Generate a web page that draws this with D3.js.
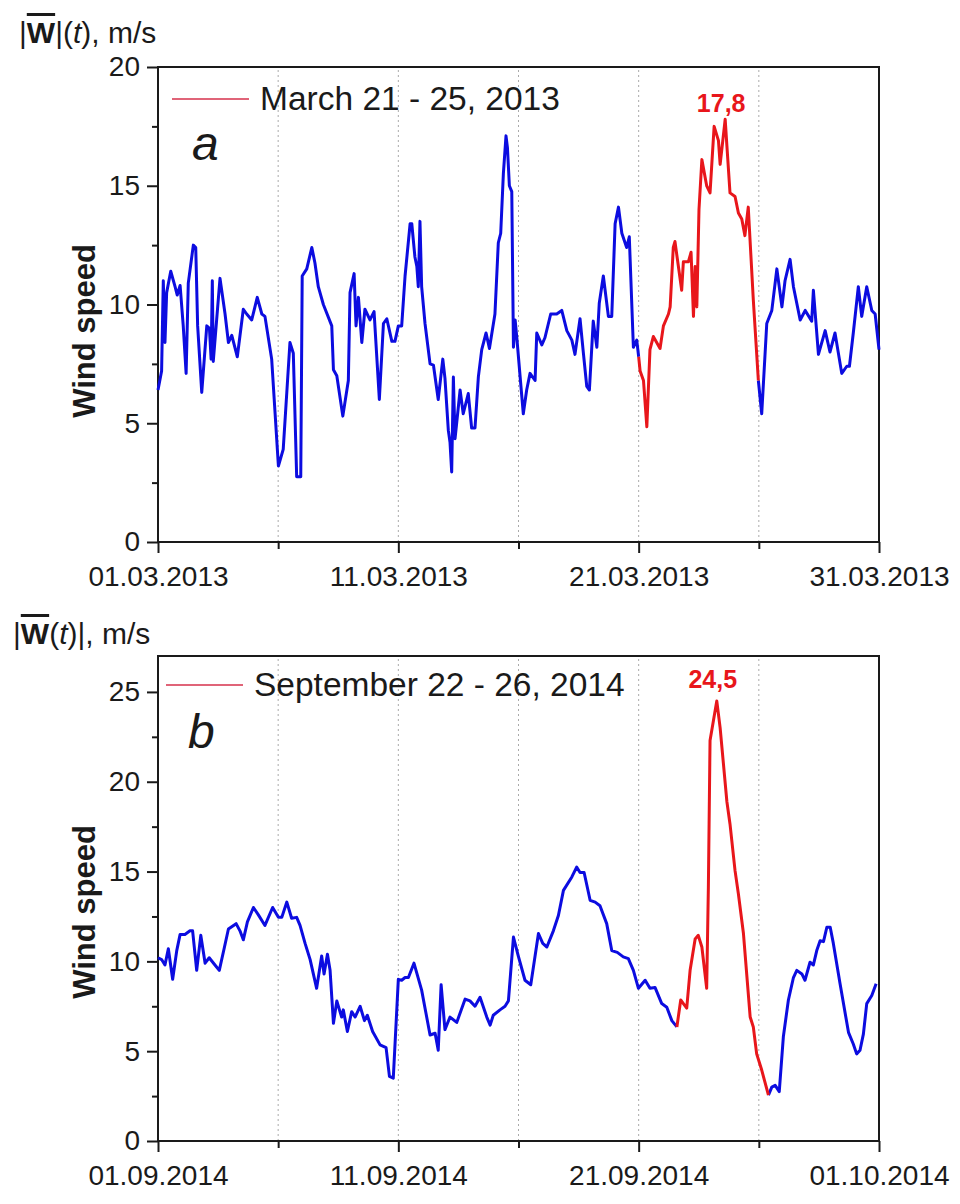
<!DOCTYPE html>
<html>
<head>
<meta charset="utf-8">
<script src="https://cdn.jsdelivr.net/npm/d3@7"></script>
<style>
body { margin: 0; background: #fff; }
text { font-family: "Liberation Sans", Arial, sans-serif; fill: #1a1a1a; }
</style>
</head>
<body>
<div id="chart"></div>
<script>
// panel a: March 2013, time in days from 01.03.2013 00:00
var marchDays = [0,0.15,0.22,0.29,0.36,0.53,0.71,0.80,0.92,1.05,
  1.17,1.26,1.47,1.57,1.65,1.82,2.03,2.14,2.21,2.26,
  2.30,2.44,2.58,2.79,2.93,3.07,3.30,3.55,3.69,3.90,
  4.13,4.32,4.45,4.73,5.01,5.21,5.49,5.63,5.77,5.94,
  6.00,6.19,6.40,6.53,6.67,6.88,7.23,7.30,7.44,7.69,
  7.92,7.99,8.16,8.24,8.34,8.48,8.61,8.82,8.99,9.21,
  9.38,9.52,9.73,9.86,10.00,10.14,10.28,10.49,10.56,10.69,
  10.77,10.83,10.90,10.97,11.11,11.32,11.46,11.66,11.85,11.94,
  12.08,12.15,12.22,12.29,12.36,12.57,12.70,12.91,13.05,13.19,
  13.33,13.47,13.65,13.79,14.02,14.16,14.26,14.37,14.48,14.54,
  14.62,14.72,14.79,14.86,14.93,15.14,15.20,15.34,15.48,15.69,
  15.76,15.97,16.10,16.34,16.59,16.80,17.01,17.22,17.35,17.56,
  17.70,17.84,17.95,18.11,18.26,18.36,18.53,18.74,18.88,19.02,
  19.16,19.30,19.50,19.61,19.78,19.92,20.00,20.06,20.20,20.34,
  20.47,20.61,20.89,21.03,21.24,21.31,21.44,21.51,21.79,21.86,
  22.07,22.18,22.28,22.35,22.42,22.51,22.63,22.83,22.97,23.14,
  23.32,23.39,23.60,23.67,23.80,24.01,24.15,24.29,24.42,24.56,
  24.77,24.98,25.12,25.33,25.54,25.75,25.96,26.09,26.30,26.44,
  26.72,26.93,27.20,27.27,27.48,27.76,27.96,28.17,28.45,28.66,
  28.77,28.93,29.14,29.28,29.49,29.70,29.84,30.00];
var marchSpeed = [6.4,7.2,11.0,8.4,10.5,11.4,10.75,10.4,10.8,9.1,
  7.1,10.9,12.5,12.4,9.1,6.3,9.1,9.0,7.7,11.0,
  7.6,9.35,11.1,9.6,8.4,8.7,7.8,9.8,9.6,9.35,
  10.3,9.6,9.5,7.7,3.2,3.9,8.4,7.95,2.75,2.75,
  11.2,11.5,12.4,11.75,10.75,10.0,9.1,7.25,7.0,5.3,
  6.8,10.5,11.3,9.1,10.3,8.4,9.8,9.35,9.7,6.0,
  9.2,9.4,8.45,8.45,9.1,9.1,11.2,13.4,13.4,12.0,
  11.6,10.75,13.5,10.75,9.2,7.5,7.45,6.0,7.7,6.9,
  4.7,4.2,2.95,6.95,4.35,6.4,5.4,6.25,4.8,4.8,
  6.95,8.1,8.8,8.15,9.6,12.6,13.0,15.5,17.1,16.6,
  15.0,14.75,8.2,9.35,8.6,6.1,5.4,6.4,7.1,6.8,
  8.8,8.3,8.6,9.6,9.6,9.75,8.9,8.5,7.9,9.4,
  7.95,6.55,6.4,9.3,8.2,10.05,11.2,9.5,9.5,13.4,
  14.1,13.0,12.4,12.85,8.2,8.5,7.8,7.2,6.8,4.85,
  8.1,8.65,8.15,9.1,9.6,9.9,12.4,12.65,10.6,11.8,
  11.8,12.2,9.5,11.6,9.9,14.0,16.1,15.0,14.7,17.5,
  16.9,15.9,17.8,16.7,14.7,14.55,13.85,13.6,12.9,14.1,
  10.2,6.8,5.4,9.2,9.75,11.5,9.9,11.0,11.9,10.75,
  9.35,9.75,9.3,10.6,7.9,8.9,8.0,8.8,7.1,7.4,
  7.4,8.8,10.75,9.5,10.75,9.75,9.6,8.1];
var marchRed = [20.00, 24.98];
var marchLegend = "March 21 - 25, 2013";
var marchPeak = "17,8";

// panel b: September 2014, days from 01.09.2014 00:00
var septDays = [0,0.15,0.29,0.43,0.61,0.78,0.92,1.12,1.33,1.44,
  1.61,1.78,1.96,2.13,2.37,2.55,2.75,2.93,3.25,3.41,
  3.55,3.72,3.97,4.17,4.45,4.77,5.01,5.15,5.36,5.56,
  5.77,5.91,6.12,6.33,6.60,6.81,6.91,7.05,7.16,7.30,
  7.44,7.64,7.71,7.88,8.06,8.20,8.41,8.59,8.71,8.93,
  9.24,9.49,9.63,9.79,10.00,10.14,10.28,10.42,10.65,10.97,
  11.32,11.53,11.66,11.78,11.94,12.15,12.43,12.78,12.98,13.19,
  13.40,13.68,13.82,13.95,14.23,14.44,14.58,14.79,14.99,15.27,
  15.51,15.83,16.01,16.18,16.45,16.66,16.87,17.22,17.42,17.56,
  17.73,17.98,18.19,18.39,18.67,18.88,19.11,19.36,19.57,19.78,
  19.99,20.27,20.47,20.68,20.96,21.17,21.38,21.59,21.75,21.86,
  22.00,22.14,22.35,22.48,22.63,22.83,22.90,22.97,23.11,23.25,
  23.39,23.67,23.80,24.01,24.15,24.36,24.64,24.77,24.91,25.12,
  25.40,25.54,25.68,25.85,26.02,26.23,26.44,26.58,26.79,26.92,
  27.13,27.27,27.41,27.55,27.69,27.83,27.97,28.10,28.38,28.73,
  28.93,29.07,29.21,29.35,29.49,29.70,29.88];
var septSpeed = [10.2,10.1,9.8,10.7,9.0,10.6,11.5,11.5,11.7,11.7,
  9.5,11.45,9.9,10.2,9.8,9.5,10.7,11.8,12.1,11.7,
  11.2,12.2,13.0,12.6,12.0,13.0,12.45,12.45,13.3,12.4,
  12.45,12.0,11.0,10.1,8.5,10.3,9.3,10.4,9.5,6.55,
  7.8,6.9,7.3,6.1,7.2,6.9,7.5,6.7,7.0,6.1,
  5.35,5.2,3.6,3.5,9.0,8.95,9.1,9.1,9.9,8.4,
  5.9,6.0,5.05,8.7,6.2,6.9,6.6,7.9,7.8,7.5,
  8.0,6.9,6.45,7.0,7.3,7.5,7.8,11.35,10.3,8.95,
  8.7,11.55,11.0,10.8,11.7,12.55,13.95,14.7,15.25,14.95,
  14.95,13.4,13.3,13.1,12.1,10.6,10.5,10.25,10.15,9.5,
  8.5,8.95,8.5,8.55,7.65,7.45,6.7,6.35,7.85,7.65,
  7.4,9.5,11.25,11.45,10.8,8.5,14.1,22.3,23.4,24.5,
  23.0,18.9,17.65,15.05,13.75,11.55,6.9,6.35,4.85,3.95,
  2.55,3.0,3.1,2.75,5.8,7.85,9.1,9.5,9.3,8.95,
  9.95,9.8,10.6,11.15,11.1,11.9,11.9,11.0,8.75,6.05,
  5.4,4.85,5.05,5.95,7.65,8.1,8.75];
var septRed = [21.59, 25.40];
var septLegend = "September 22 - 26, 2014";
var septPeak = "24,5";

var w = 960, h = 1204;
var left = 158, right = 879;
var dayMs = 864e5;

var svg = d3.select("#chart").append("svg")
  .attr("width", w)
  .attr("height", h);

function drawPanel(p) {
  var x = d3.scaleUtc()
    .domain([p.start, d3.utcDay.offset(p.start, 30)])
    .range([left, right]);
  var y = d3.scaleLinear()
    .domain([0, p.yMax])
    .range([p.bottom, p.top]);

  var data = p.days.map(function(d, i) {
    return {t: new Date(+p.start + d * dayMs), day: d, v: p.speed[i]};
  });

  var g = svg.append("g");

  // dotted lines every 5 days
  var gridDays = [5, 10, 15, 20, 25].map(function(k) { return d3.utcDay.offset(p.start, k); });
  g.selectAll(".grid").data(gridDays).enter().append("line")
    .attr("x1", function(d) { return x(d); })
    .attr("x2", function(d) { return x(d); })
    .attr("y1", p.bottom)
    .attr("y2", p.top)
    .attr("stroke", "#aaa")
    .attr("stroke-width", 1)
    .attr("stroke-dasharray", "2,3");

  var majorX = [0, 10, 20, 30].map(function(k) { return d3.utcDay.offset(p.start, k); });
  var minorX = [5, 15, 25].map(function(k) { return d3.utcDay.offset(p.start, k); });

  var xAxis = d3.axisBottom(x).tickValues(majorX).tickSize(11).tickPadding(13)
    .tickFormat(d3.utcFormat("%d.%m.%Y"));
  var xMinor = d3.axisBottom(x).tickValues(minorX).tickSize(7).tickFormat("");

  var yMajor = d3.range(0, p.yMax + 0.1, 5);
  var yMinor = d3.range(2.5, p.yMax, 5);
  var yAxis = d3.axisLeft(y).tickValues(yMajor).tickSize(11).tickPadding(7);
  var yMinorAxis = d3.axisLeft(y).tickValues(yMinor).tickSize(6).tickFormat("");

  [[xAxis, "translate(0," + p.bottom + ")"], [xMinor, "translate(0," + p.bottom + ")"],
   [yAxis, "translate(" + left + ",0)"], [yMinorAxis, "translate(" + left + ",0)"]].forEach(function(a) {
    var ax = g.append("g").attr("transform", a[1]).call(a[0]);
    ax.select(".domain").remove();
    ax.selectAll("line").attr("stroke", "#1a1a1a").attr("stroke-width", 2);
    ax.selectAll("text").attr("font-size", 28).attr("font-family", "Liberation Sans, Arial, sans-serif").attr("fill", "#1a1a1a");
  });

  g.append("rect")
    .attr("x", left).attr("y", p.top)
    .attr("width", right - left).attr("height", p.bottom - p.top)
    .attr("fill", "none").attr("stroke", "#1a1a1a").attr("stroke-width", 2);

  var line = d3.line()
    .x(function(d) { return x(d.t); })
    .y(function(d) { return y(d.v); });

  g.append("path")
    .datum(data)
    .attr("fill", "none")
    .attr("stroke", "#0c0ce0")
    .attr("stroke-width", 3)
    .attr("stroke-linejoin", "round")
    .attr("d", line.defined(function(d) { return d.day <= p.red[0] || d.day >= p.red[1]; }));

  g.append("path")
    .datum(data)
    .attr("fill", "none")
    .attr("stroke", "#e8161b")
    .attr("stroke-width", 3)
    .attr("stroke-linejoin", "round")
    .attr("d", line.defined(function(d) { return d.day >= p.red[0] && d.day <= p.red[1]; }));

  // peak value label
  var peak = d3.greatest(data, function(d) { return d.v; });
  g.append("text")
    .attr("x", x(peak.t) - 4)
    .attr("y", y(peak.v) - p.peakGap)
    .attr("text-anchor", "middle")
    .attr("font-size", 25)
    .attr("font-weight", "bold")
    .style("fill", "#e8161b")
    .text(p.peakText);

  // legend
  g.append("line")
    .attr("x1", p.legX).attr("x2", p.legX + 77)
    .attr("y1", p.legY - 11).attr("y2", p.legY - 11)
    .attr("stroke", "#e06478").attr("stroke-width", 1.8);
  g.append("text")
    .attr("x", p.legX + 88).attr("y", p.legY)
    .attr("font-size", 33.5)
    .text(p.legend);

  g.append("text")
    .attr("x", p.letterX).attr("y", p.letterY)
    .attr("font-size", 48)
    .attr("font-style", "italic")
    .text(p.letter);

  g.append("text")
    .attr("transform", "translate(95," + p.labelY + ") rotate(-90)")
    .attr("text-anchor", "middle")
    .attr("font-size", 31)
    .attr("font-weight", "bold")
    .text("Wind speed");

  // unit title
  var t = g.append("text").attr("x", p.titleX).attr("y", p.titleY).attr("font-size", 30);
  p.title.forEach(function(part) {
    var s = t.append("tspan").text(part[0]);
    if (part[1] == "W") s.attr("font-weight", "bold").style("text-decoration", "overline");
    if (part[1] == "i") s.attr("font-style", "italic");
  });
}

drawPanel({
  start: new Date(Date.UTC(2013, 2, 1)),
  days: marchDays, speed: marchSpeed, red: marchRed,
  yMax: 20, top: 67, bottom: 542, labelY: 331,
  legend: marchLegend, legX: 172, legY: 110,
  peakText: marchPeak, peakGap: 7,
  letter: "a", letterX: 192, letterY: 160,
  title: [["|", ""], ["W", "W"], ["|(", ""], ["t", "i"], ["), m/s", ""]],
  titleX: 19, titleY: 43
});

drawPanel({
  start: new Date(Date.UTC(2014, 8, 1)),
  days: septDays, speed: septSpeed, red: septRed,
  yMax: 27, top: 656, bottom: 1141, labelY: 912,
  legend: septLegend, legX: 166, legY: 696,
  peakText: septPeak, peakGap: 13,
  letter: "b", letterX: 188, letterY: 748,
  title: [["|", ""], ["W", "W"], ["(", ""], ["t", "i"], [")|, m/s", ""]],
  titleX: 13, titleY: 644
});
</script>
</body>
</html>
